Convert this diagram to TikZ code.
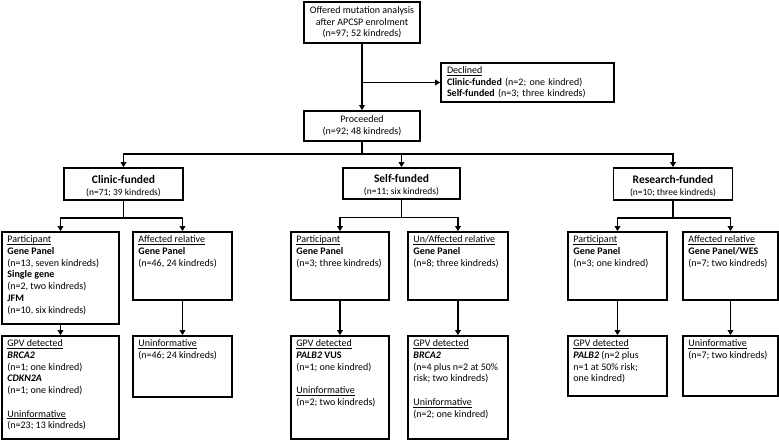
\documentclass[tikz,border=0pt]{standalone}
\usepackage{fontspec}
\setmainfont{Carlito}
\usetikzlibrary{arrows.meta,calc}
\newcommand\undl[1]{\underline{\smash{#1}}\vphantom{#1}}
\newcommand\gn[1]{\textbf{\textit{#1}}}
\begin{document}
\begin{tikzpicture}[x=1pt,y=-1pt,
  font=\fontsize{10}{11.7}\selectfont,
  box/.style={draw, line width=1.6pt, rectangle, inner sep=0pt},
  conn/.style={line width=1.5pt},
  arr/.style={conn, -{Triangle[length=5pt,width=5.5pt]}},
  txt/.style={anchor=north west, inner sep=0pt, align=left},
  ttl/.style={font=\fontsize{11.5}{13}\selectfont\bfseries},
  sub/.style={font=\fontsize{9.5}{11}\selectfont}]
\useasboundingbox (0,0) rectangle (779,441);

% top level
\node[box, align=center, minimum width=116pt, minimum height=41pt] (top) at (362,22.5)
  {Offered mutation analysis\\after APCSP enrolment\\(n=97; 52 kindreds)};
\node[box, align=left, text width=161pt, inner xsep=6pt, minimum height=39pt] (decl) at (527.5,82.5)
  {\undl{Declined}\\\textbf{Clinic-funded} (n=2; one kindred)\\\textbf{Self-funded} (n=3; three kindreds)};
\node[box, align=center, minimum width=116pt, minimum height=30pt] (proc) at (362,126)
  {Proceeded\\(n=92; 48 kindreds)};

% funding level
\node[box, minimum width=119pt, minimum height=32pt] (clinic) at (123.5,184) {};
\node[box, minimum width=117pt, minimum height=31pt] (self) at (401.5,183.5) {};
\node[box, minimum width=119pt, minimum height=32pt] (research) at (673,184) {};
\node[ttl, anchor=base] (tclinic) at ($(clinic.center)+(0,-1)$) {Clinic-funded};
\node[sub, anchor=base] (sclinic) at ($(clinic.center)+(0,11)$) {(n=71; 39 kindreds)};
\node[ttl, anchor=base] (tself) at ($(self.center)+(0,-1)$) {Self-funded};
\node[sub, anchor=base] (sself) at ($(self.center)+(0,11)$) {(n=11; six kindreds)};
\node[ttl, anchor=base] (tresearch) at ($(research.center)+(0,-1)$) {Research-funded};
\node[sub, anchor=base] (sresearch) at ($(research.center)+(0,11)$) {(n=10; three kindreds)};

% second level
\node[box, minimum width=117pt, minimum height=92pt] (cpart) at (60.5,278) {};
\node[box, minimum width=99pt, minimum height=68pt] (caff) at (182.5,266) {};
\node[box, minimum width=98pt, minimum height=68pt] (spart) at (340,266) {};
\node[box, minimum width=100pt, minimum height=68pt] (saff) at (458,266) {};
\node[box, minimum width=99pt, minimum height=68pt] (rpart) at (617.5,266) {};
\node[box, minimum width=95pt, minimum height=68pt] (raff) at (730.5,266) {};

% third level
\node[box, minimum width=117pt, minimum height=103pt] (cgpv) at (60.5,387.5) {};
\node[box, minimum width=99pt, minimum height=61pt] (cuni) at (182.5,366.5) {};
\node[box, minimum width=98pt, minimum height=103pt] (sgpv) at (340,387.5) {};
\node[box, minimum width=100pt, minimum height=103pt] (sgpvb) at (458,387.5) {};
\node[box, minimum width=99pt, minimum height=60pt] (rgpv) at (617.5,366) {};
\node[box, minimum width=95pt, minimum height=60pt] (runi) at (730.5,366) {};

% texts
\node[txt] (tcpart) at ($(cpart.north west)+(6,4.5)$)
  {\undl{Participant}\\\textbf{Gene Panel}\\(n=13, seven kindreds)\\\textbf{Single gene}\\(n=2, two kindreds)\\\textbf{JFM}\\(n=10, six kindreds)};
\node[txt] (tcaff) at ($(caff.north west)+(6,4.5)$)
  {\undl{Affected relative}\\\textbf{Gene Panel}\\(n=46, 24 kindreds)};
\node[txt] (tspart) at ($(spart.north west)+(6,4.5)$)
  {\undl{Participant}\\\textbf{Gene Panel}\\(n=3; three kindreds)};
\node[txt] (tsaff) at ($(saff.north west)+(6,4.5)$)
  {\undl{Un/Affected relative}\\\textbf{Gene Panel}\\(n=8; three kindreds)};
\node[txt] (trpart) at ($(rpart.north west)+(6,4.5)$)
  {\undl{Participant}\\\textbf{Gene Panel}\\(n=3; one kindred)};
\node[txt] (traff) at ($(raff.north west)+(6,4.5)$)
  {\undl{Affected relative}\\\textbf{Gene Panel/WES}\\(n=7; two kindreds)};
\node[txt] (tcgpv) at ($(cgpv.north west)+(6,4.5)$)
  {\undl{GPV detected}\\\gn{BRCA2}\\(n=1; one kindred)\\\gn{CDKN2A}\\(n=1; one kindred)\\[11.7pt]\undl{Uninformative}\\(n=23; 13 kindreds)};
\node[txt] (tcuni) at ($(cuni.north west)+(6,4.5)$)
  {\undl{Uninformative}\\(n=46; 24 kindreds)};
\node[txt] (tsgpv) at ($(sgpv.north west)+(6,4.5)$)
  {\undl{GPV detected}\\\gn{PALB2} \textbf{VUS}\\(n=1; one kindred)\\[11.7pt]\undl{Uninformative}\\(n=2; two kindreds)};
\node[txt] (tsgpvb) at ($(sgpvb.north west)+(6,4.5)$)
  {\undl{GPV detected}\\\gn{BRCA2}\\(n=4 plus n=2 at 50\%\\risk; two kindreds)\\[11.7pt]\undl{Uninformative}\\(n=2; one kindred)};
\node[txt] (trgpv) at ($(rgpv.north west)+(6,4.5)$)
  {\undl{GPV detected}\\\gn{PALB2} (n=2 plus\\n=1 at 50\% risk;\\one kindred)};
\node[txt] (truni) at ($(runi.north west)+(6,4.5)$)
  {\undl{Uninformative}\\(n=7; two kindreds)};

% connectors
\draw[arr] (top.south) -- (proc.north);
\draw[arr] (top.south |- decl.west) -- (decl.west);
\coordinate (j1) at ($(proc.south)+(0,12)$);
\draw[conn] (proc.south) -- (j1);
\draw[arr] (j1) -| (clinic.north);
\draw[arr] (j1) -| (self.north);
\draw[arr] (j1) -| (research.north);

\coordinate (jc) at ($(clinic.south)+(0,17)$);
\draw[conn] (clinic.south) -- (jc);
\draw[arr] (jc) -| (cpart.north);
\draw[arr] (jc) -| (caff.north);
\coordinate (js) at ($(self.south)+(0,17.5)$);
\draw[conn] (self.south) -- (js);
\draw[arr] (js) -| (spart.north);
\draw[arr] (js) -| (saff.north);
\coordinate (jr) at ($(research.south)+(0,17)$);
\draw[conn] (research.south) -- (jr);
\draw[arr] (jr) -| (rpart.north);
\draw[arr] (jr) -| (raff.north);

\draw[arr] (cpart.south) -- (cgpv.north);
\draw[arr] (caff.south) -- (cuni.north);
\draw[arr] (spart.south) -- (sgpv.north);
\draw[arr] (saff.south) -- (sgpvb.north);
\draw[arr] (rpart.south) -- (rgpv.north);
\draw[arr] (raff.south) -- (runi.north);
\end{tikzpicture}
\end{document}
